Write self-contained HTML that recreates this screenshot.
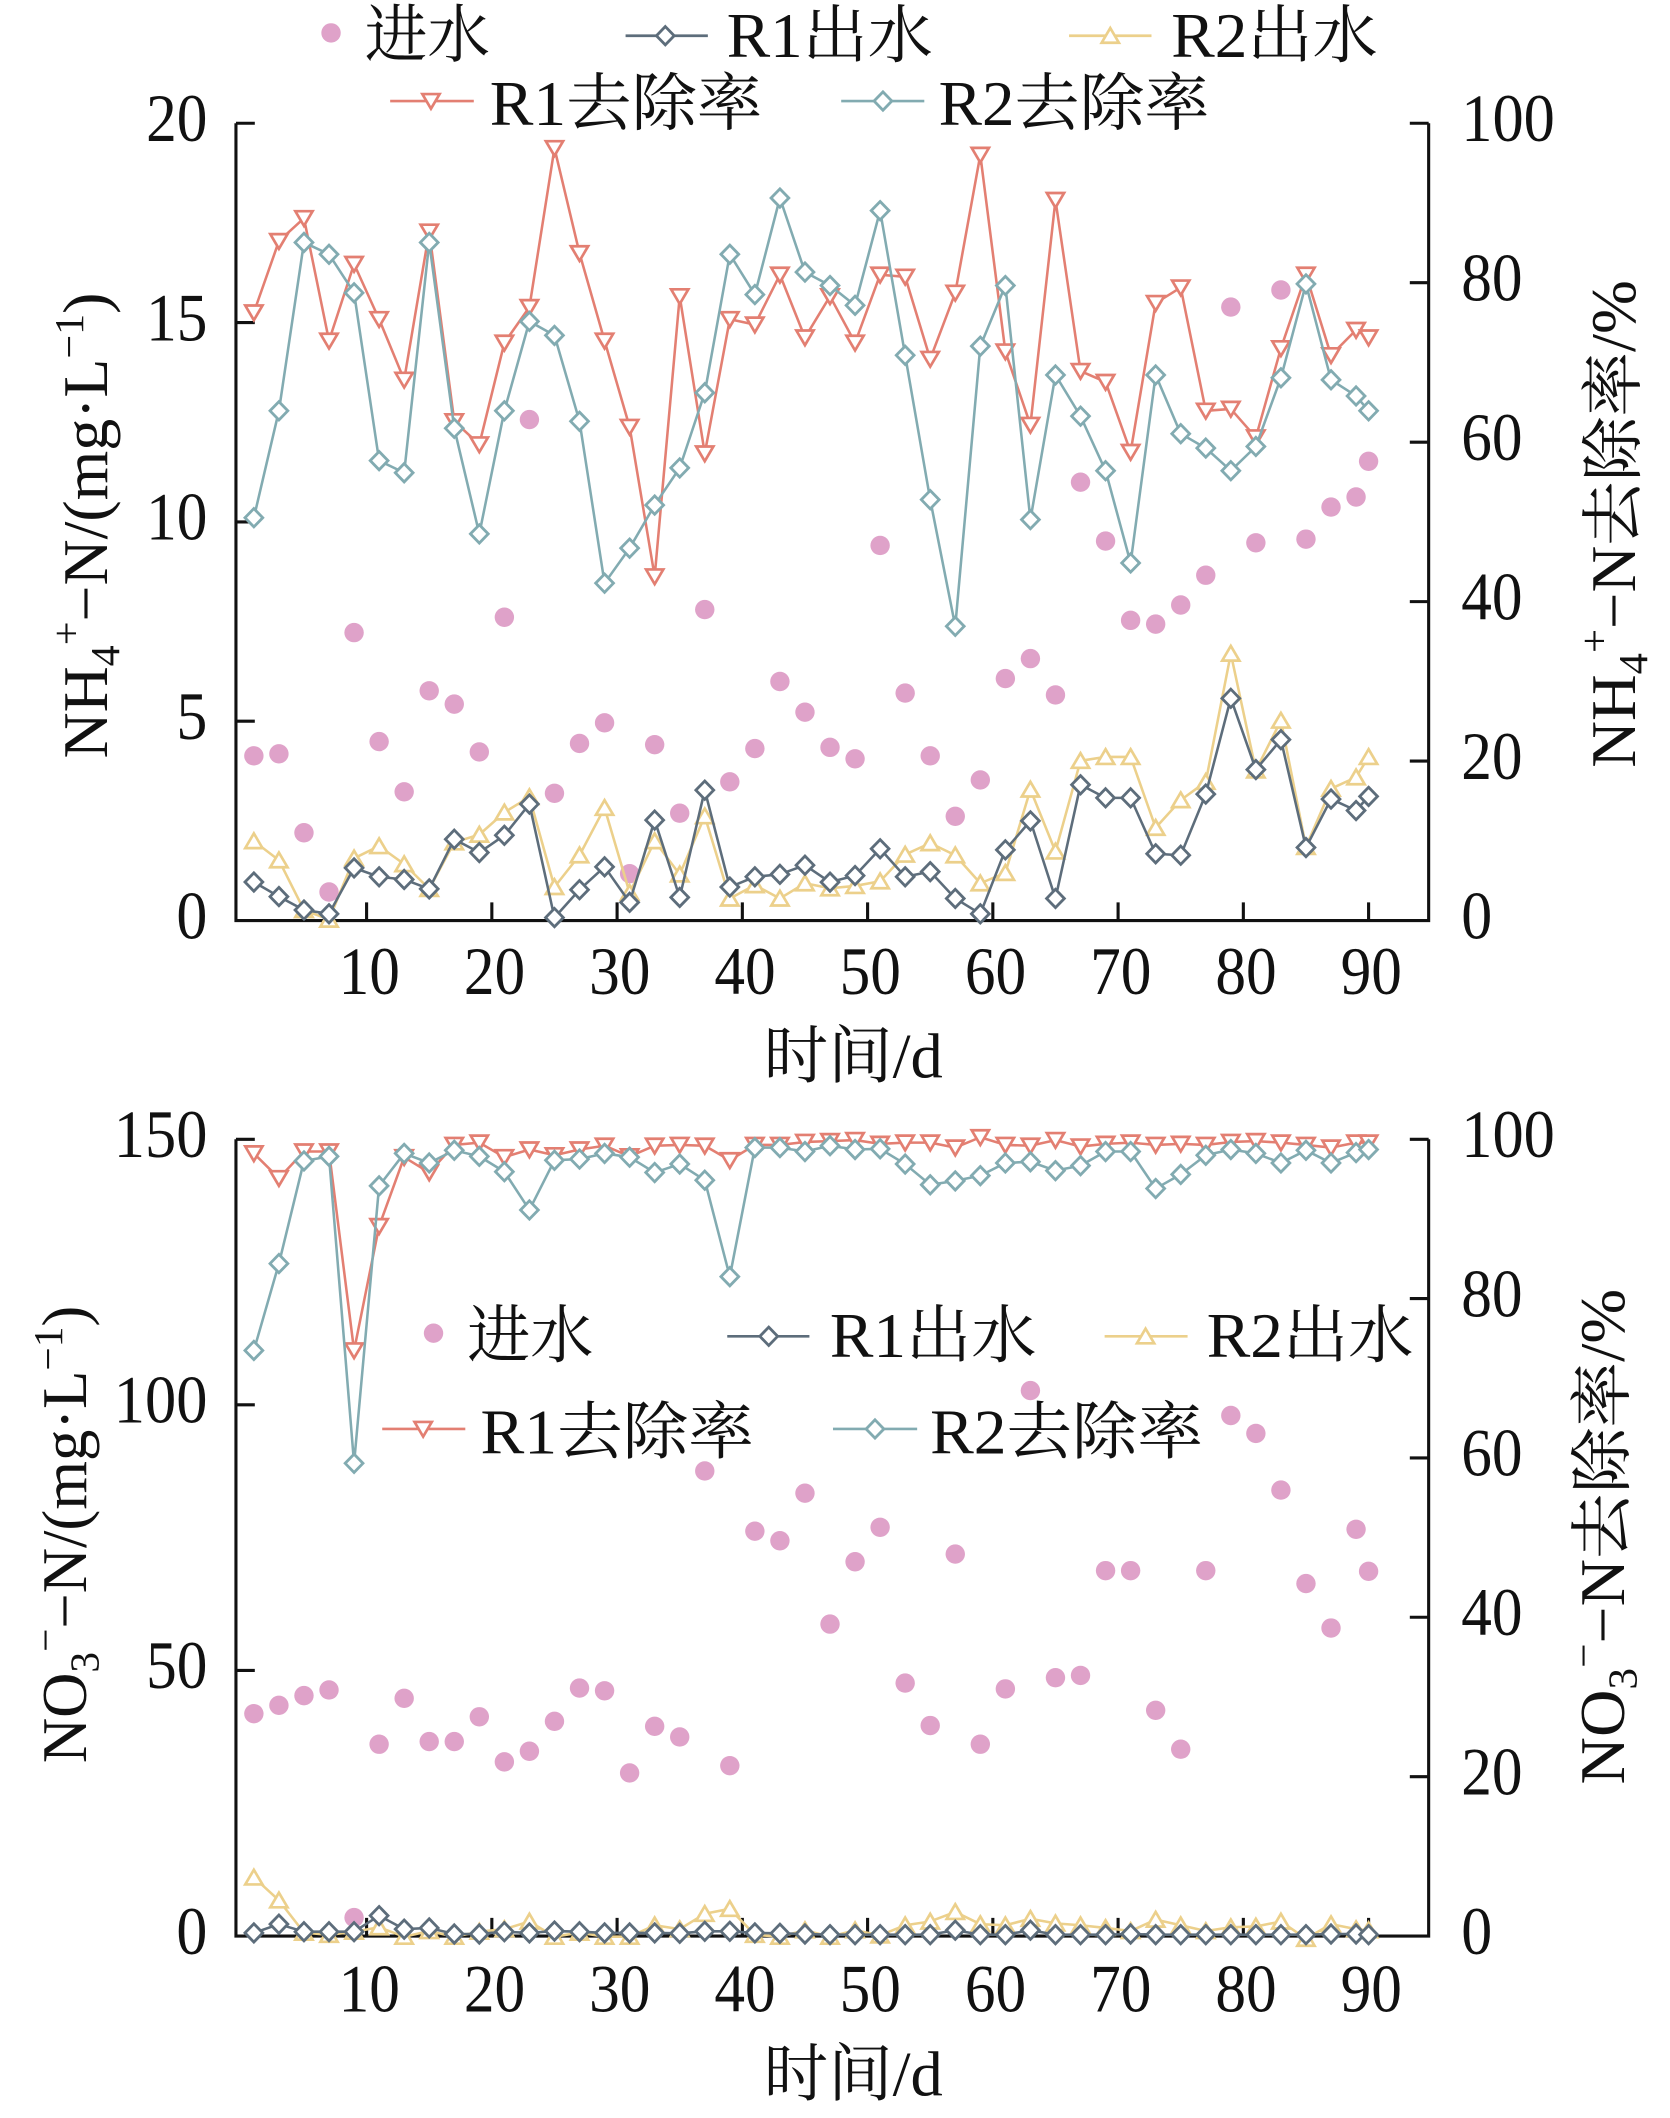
<!DOCTYPE html>
<html>
<head>
<meta charset="utf-8">
<style>
html,body{margin:0;padding:0;background:#fff;}
svg{display:block;}
</style>
</head>
<body>
<svg width="1670" height="2118" viewBox="0 0 1240 1572.6" xmlns="http://www.w3.org/2000/svg">
<defs>
<marker id="mP" markerUnits="userSpaceOnUse" markerWidth="20" markerHeight="20" refX="10" refY="10" overflow="visible"><circle cx="10" cy="10" r="7.2" fill="#dfa2c9"/></marker>
<marker id="mD" markerUnits="userSpaceOnUse" markerWidth="20" markerHeight="20" refX="10" refY="10" overflow="visible"><path d="M10,3.2 L16.6,10 L10,16.8 L3.4,10Z" fill="#fff" stroke="#5d6d7b" stroke-width="2.1"/></marker>
<marker id="mY" markerUnits="userSpaceOnUse" markerWidth="20" markerHeight="20" refX="10" refY="10" overflow="visible"><path d="M10,4.3 L16.4,15.2 L3.6,15.2Z" fill="#fff" stroke="#ecd08b" stroke-width="2"/></marker>
<marker id="mS" markerUnits="userSpaceOnUse" markerWidth="20" markerHeight="20" refX="10" refY="10" overflow="visible"><path d="M3.6,4.8 L16.4,4.8 L10,15.7Z" fill="#fff" stroke="#e37f72" stroke-width="2"/></marker>
<marker id="mT" markerUnits="userSpaceOnUse" markerWidth="20" markerHeight="20" refX="10" refY="10" overflow="visible"><path d="M10,3.2 L16.6,10 L10,16.8 L3.4,10Z" fill="#fff" stroke="#82abb1" stroke-width="2.1"/></marker>
</defs>
<rect x="0" y="0" width="1240" height="1572.6" fill="#fff"/>

<!-- ============ TOP CHART AXES ============ -->
<g stroke="#111" stroke-width="2.3" fill="none">
<polyline points="175.2,91.5 175.2,683.5 1060.8,683.5 1060.8,91.5"/>
<path d="M175.2,91.5h14 M175.2,239.5h14 M175.2,387.5h14 M175.2,535.5h14"/>
<path d="M1060.8,91.5h-14 M1060.8,209.9h-14 M1060.8,328.3h-14 M1060.8,446.7h-14 M1060.8,565.1h-14"/>
<path d="M272.2,683.5v-13.5 M365.2,683.5v-13.5 M458.2,683.5v-13.5 M551.2,683.5v-13.5 M644.2,683.5v-13.5 M737.2,683.5v-13.5 M830.2,683.5v-13.5 M923.2,683.5v-13.5 M1016.2,683.5v-13.5"/>
</g>

<!-- ============ BOTTOM CHART AXES ============ -->
<g stroke="#111" stroke-width="2.3" fill="none">
<polyline points="175.2,845.9 175.2,1437.5 1060.8,1437.5 1060.8,845.9"/>
<path d="M175.2,845.9h14 M175.2,1043.1h14 M175.2,1240.3h14"/>
<path d="M1060.8,845.9h-14 M1060.8,964.2h-14 M1060.8,1082.5h-14 M1060.8,1200.8h-14 M1060.8,1319.2h-14"/>
<path d="M272.2,1437.5v-13.5 M365.2,1437.5v-13.5 M458.2,1437.5v-13.5 M551.2,1437.5v-13.5 M644.2,1437.5v-13.5 M737.2,1437.5v-13.5 M830.2,1437.5v-13.5 M923.2,1437.5v-13.5 M1016.2,1437.5v-13.5"/>
</g>

<!-- ============ TOP CHART SERIES ============ -->
<polyline fill="none" stroke="none" marker-start="url(#mP)" marker-mid="url(#mP)" marker-end="url(#mP)" points="188.5,561.2 207.1,559.7 225.7,618.3 244.3,662.3 262.9,469.7 281.5,550.6 300.1,587.9 318.7,512.9 337.3,522.8 355.9,558.3 374.5,458.3 393.1,311.5 411.7,589 430.3,552 448.9,536.7 467.5,648.7 486.1,552.9 504.7,603.8 523.3,452.6 541.9,580.5 560.5,555.8 579.1,506 597.7,528.8 616.3,554.9 634.9,563.4 653.5,405 672.1,514.6 690.7,561.2 709.3,606.1 727.9,579.1 746.5,503.8 765.1,489 783.7,516 802.3,358 820.9,401.7 839.5,460.6 858.1,463.4 876.7,449.2 895.3,427.1 913.9,228 932.5,403 951.1,215.3 969.7,400.3 988.3,376.5 1006.9,369 1016.2,342.5"/>

<polyline fill="none" stroke="#ecd08b" stroke-width="1.9" stroke-linejoin="round" marker-start="url(#mY)" marker-mid="url(#mY)" marker-end="url(#mY)" points="188.5,624.5 207.1,638.7 225.7,675.7 244.3,682.8 262.9,637.3 281.5,628.2 300.1,641.6 318.7,660 337.3,625.4 355.9,619.7 374.5,603.2 393.1,591.8 411.7,658.6 430.3,635 448.9,599.8 467.5,662.9 486.1,624.5 504.7,649.2 523.3,606 541.9,667.1 560.5,657.2 579.1,667.1 597.7,655.8 616.3,659.5 634.9,657.8 653.5,654.3 672.1,634.5 690.7,626 709.3,635 727.9,655.8 746.5,648.1 765.1,586.2 783.7,632.2 802.3,564.9 820.9,562 839.5,562 858.1,614.6 876.7,594.1 895.3,580.5 913.9,485.3 932.5,572 951.1,535 969.7,628.8 988.3,585.6 1006.9,577.1 1016.2,562"/>

<polyline fill="none" stroke="#5d6d7b" stroke-width="1.9" stroke-linejoin="round" marker-start="url(#mD)" marker-mid="url(#mD)" marker-end="url(#mD)" points="188.5,654.9 207.1,665.7 225.7,675.7 244.3,678.5 262.9,644.4 281.5,651 300.1,653 318.7,660 337.3,623.1 355.9,633 374.5,620.2 393.1,597 411.7,681.3 430.3,660.6 448.9,643.6 467.5,670 486.1,608.9 504.7,666.3 523.3,586.7 541.9,658.6 560.5,651 579.1,649.2 597.7,642.4 616.3,655 634.9,650.1 653.5,630.2 672.1,651 690.7,647.2 709.3,667.1 727.9,678.5 746.5,631 765.1,609.5 783.7,667.1 802.3,582.7 820.9,592.4 839.5,592.4 858.1,633.9 876.7,635 895.3,589.6 913.9,518.5 932.5,571.4 951.1,549.2 969.7,629.3 988.3,593.3 1006.9,601.8 1016.2,591.3"/>

<polyline fill="none" stroke="#e37f72" stroke-width="1.9" stroke-linejoin="round" marker-start="url(#mS)" marker-mid="url(#mS)" marker-end="url(#mS)" points="188.5,232 207.1,179 225.7,162 244.3,253 262.9,196 281.5,237 300.1,282 318.7,172 337.3,312.8 355.9,330 374.5,254.5 393.1,228 411.7,110 430.3,188 448.9,253 467.5,317 486.1,428 504.7,220 523.3,336.7 541.9,237 560.5,241 579.1,204 597.7,250.6 616.3,220 634.9,254.5 653.5,204 672.1,205.5 690.7,266.5 709.3,217.4 727.9,115 746.5,261 765.1,315.5 783.7,148.5 802.3,275.5 820.9,283.6 839.5,335.6 858.1,225 876.7,213.5 895.3,305 913.9,303.6 932.5,324.8 951.1,258.6 969.7,204 988.3,263.8 1006.9,245 1016.2,250.6"/>

<polyline fill="none" stroke="#82abb1" stroke-width="1.9" stroke-linejoin="round" marker-start="url(#mT)" marker-mid="url(#mT)" marker-end="url(#mT)" points="188.5,384.4 207.1,305 225.7,180 244.3,188.8 262.9,217.4 281.5,342 300.1,351 318.7,180 337.3,318 355.9,396.4 374.5,305 393.1,238.6 411.7,249 430.3,312.8 448.9,433 467.5,407 486.1,375 504.7,347.4 523.3,291.6 541.9,188.8 560.5,218.7 579.1,147 597.7,202 616.3,212 634.9,226.7 653.5,156.4 672.1,263.8 690.7,371 709.3,465 727.9,257 746.5,212 765.1,385.8 783.7,278.4 802.3,309 820.9,349.5 839.5,418 858.1,278.4 876.7,322 895.3,332.7 913.9,349.5 932.5,331.5 951.1,280.5 969.7,210.8 988.3,282 1006.9,294 1016.2,305"/>

<!-- ============ BOTTOM CHART SERIES ============ -->
<polyline fill="none" stroke="none" marker-start="url(#mP)" marker-mid="url(#mP)" marker-end="url(#mP)" points="188.5,1272.4 207.1,1266.2 225.7,1259 244.3,1254.8 262.9,1423.8 281.5,1295.1 300.1,1261 318.7,1293.1 337.3,1293.1 355.9,1274.7 374.5,1308.2 393.1,1300.3 411.7,1278.1 430.3,1253.4 448.9,1255.4 467.5,1316.4 486.1,1281.8 504.7,1289.7 523.3,1092.2 541.9,1311 560.5,1136.9 579.1,1144 597.7,1108.7 616.3,1205.9 634.9,1159.6 653.5,1134 672.1,1249.7 690.7,1281.2 709.3,1153.9 727.9,1295.1 746.5,1254 765.1,1032.5 783.7,1245.7 802.3,1244 820.9,1166.2 839.5,1166.2 858.1,1269.9 876.7,1298.8 895.3,1166.2 913.9,1051 932.5,1064.3 951.1,1106.4 969.7,1175.8 988.3,1208.8 1006.9,1135.5 1016.2,1166.7"/>

<polyline fill="none" stroke="#ecd08b" stroke-width="1.9" stroke-linejoin="round" marker-start="url(#mY)" marker-mid="url(#mY)" marker-end="url(#mY)" points="188.5,1394 207.1,1411 225.7,1435 244.3,1436.6 262.9,1434.3 281.5,1431 300.1,1438 318.7,1433.8 337.3,1438 355.9,1434.3 374.5,1432.4 393.1,1426.7 411.7,1438 430.3,1435 448.9,1438 467.5,1438 486.1,1429.5 504.7,1432.4 523.3,1421 541.9,1417.3 560.5,1436.6 579.1,1438 597.7,1433.2 616.3,1438 634.9,1433.2 653.5,1437 672.1,1429.5 690.7,1426.7 709.3,1419.6 727.9,1428.7 746.5,1429.5 765.1,1424.7 783.7,1428.1 802.3,1429.5 820.9,1431.5 839.5,1433.8 858.1,1425.3 876.7,1429.5 895.3,1433.8 913.9,1431 932.5,1430.4 951.1,1426.7 969.7,1439.5 988.3,1428.7 1006.9,1432.4 1016.2,1433.2"/>

<polyline fill="none" stroke="#5d6d7b" stroke-width="1.9" stroke-linejoin="round" marker-start="url(#mD)" marker-mid="url(#mD)" marker-end="url(#mD)" points="188.5,1435.2 207.1,1428.7 225.7,1434.3 244.3,1434.3 262.9,1434.3 281.5,1422.4 300.1,1432.4 318.7,1431.5 337.3,1436 355.9,1436 374.5,1434.3 393.1,1435.2 411.7,1433.8 430.3,1434.3 448.9,1435.2 467.5,1435.2 486.1,1435.2 504.7,1435.5 523.3,1434 541.9,1434 560.5,1435.2 579.1,1435.5 597.7,1436 616.3,1436.5 634.9,1436.5 653.5,1436.5 672.1,1436.5 690.7,1436.5 709.3,1433.2 727.9,1436.5 746.5,1436.5 765.1,1433.2 783.7,1436.5 802.3,1436.5 820.9,1436.5 839.5,1436 858.1,1436.5 876.7,1436.5 895.3,1436.5 913.9,1436.5 932.5,1436.5 951.1,1436.5 969.7,1436.5 988.3,1436 1006.9,1436 1016.2,1436.5"/>

<polyline fill="none" stroke="#e37f72" stroke-width="1.9" stroke-linejoin="round" marker-start="url(#mS)" marker-mid="url(#mS)" marker-end="url(#mS)" points="188.5,856.4 207.1,874.8 225.7,855 244.3,855 262.9,1002.7 281.5,910.4 300.1,859.2 318.7,870.6 337.3,850.1 355.9,848.4 374.5,859.2 393.1,853.5 411.7,857.8 430.3,853.5 448.9,850.7 467.5,858.6 486.1,850.7 504.7,850.1 523.3,850.7 541.9,861.5 560.5,850.1 579.1,850.1 597.7,847.9 616.3,847.3 634.9,846.5 653.5,849.3 672.1,848.4 690.7,848.4 709.3,852.1 727.9,844.4 746.5,850.1 765.1,850.7 783.7,846.5 802.3,851.3 820.9,849.3 839.5,848.4 858.1,850.1 876.7,849.3 895.3,850.1 913.9,847.9 932.5,847.3 951.1,848.4 969.7,850.1 988.3,852.1 1006.9,848.4 1016.2,848.4"/>

<polyline fill="none" stroke="#82abb1" stroke-width="1.9" stroke-linejoin="round" marker-start="url(#mT)" marker-mid="url(#mT)" marker-end="url(#mT)" points="188.5,1002.7 207.1,938.2 225.7,862 244.3,858.6 262.9,1086.5 281.5,880.5 300.1,856.4 318.7,863.5 337.3,854.1 355.9,858.6 374.5,870 393.1,898.4 411.7,861.5 430.3,860.6 448.9,856.4 467.5,859.2 486.1,870.6 504.7,864.3 523.3,876.3 541.9,947.9 560.5,852.1 579.1,852.1 597.7,855 616.3,850.7 634.9,853.5 653.5,853 672.1,864.3 690.7,879.7 709.3,876.8 727.9,872.9 746.5,863.5 765.1,862.6 783.7,869.2 802.3,865.5 820.9,855 839.5,855 858.1,882.5 876.7,872 895.3,857.8 913.9,853.5 932.5,856.4 951.1,863.5 969.7,854.1 988.3,863.5 1006.9,855.8 1016.2,853.5"/>

<!-- ============ LEGEND GRAPHICS ============ -->
<circle cx="245.8" cy="24.4" r="7.2" fill="#dfa2c9"/>
<polyline fill="none" stroke="#5d6d7b" stroke-width="2" points="464.5,26.5 494,26.5 525.6,26.5" marker-mid="url(#mD)"/>
<polyline fill="none" stroke="#ecd08b" stroke-width="2" points="793.8,26.5 824.4,26.5 855,26.5" marker-mid="url(#mY)"/>
<polyline fill="none" stroke="#e37f72" stroke-width="2" points="289.7,75 320,75 351.8,75" marker-mid="url(#mS)"/>
<polyline fill="none" stroke="#82abb1" stroke-width="2" points="624.6,75 655.6,75 686.3,75" marker-mid="url(#mT)"/>

<circle cx="321.9" cy="989.9" r="7.2" fill="#dfa2c9"/>
<polyline fill="none" stroke="#5d6d7b" stroke-width="2" points="540,992.2 570.8,992.2 601,992.2" marker-mid="url(#mD)"/>
<polyline fill="none" stroke="#ecd08b" stroke-width="2" points="820.2,992.2 850.6,992.2 881.8,992.2" marker-mid="url(#mY)"/>
<polyline fill="none" stroke="#e37f72" stroke-width="2" points="283.8,1061 314.2,1061 345.5,1061" marker-mid="url(#mS)"/>
<polyline fill="none" stroke="#82abb1" stroke-width="2" points="618.5,1061 649.7,1061 681,1061" marker-mid="url(#mT)"/>

<!-- ============ TEXT ============ -->
<g font-family="'Liberation Serif','Noto Serif CJK SC',serif" font-size="47" fill="#111">
<!-- top legend -->
<text x="270.8" y="42" textLength="93" lengthAdjust="spacingAndGlyphs">进水</text>
<text x="539.6" y="42.4" textLength="153" lengthAdjust="spacingAndGlyphs">R1出水</text>
<text x="869.7" y="42.4" textLength="153.3" lengthAdjust="spacingAndGlyphs">R2出水</text>
<text x="363.7" y="92.8" textLength="202.3" lengthAdjust="spacingAndGlyphs">R1去除率</text>
<text x="697" y="92.8" textLength="201" lengthAdjust="spacingAndGlyphs">R2去除率</text>

<!-- bottom legend -->
<text x="346.9" y="1007.6" textLength="93.7" lengthAdjust="spacingAndGlyphs">进水</text>
<text x="616.2" y="1007.6" textLength="153.4" lengthAdjust="spacingAndGlyphs">R1出水</text>
<text x="896" y="1007.6" textLength="153.5" lengthAdjust="spacingAndGlyphs">R2出水</text>
<text x="356.8" y="1079.4" textLength="203" lengthAdjust="spacingAndGlyphs">R1去除率</text>
<text x="690.6" y="1079.4" textLength="202.6" lengthAdjust="spacingAndGlyphs">R2去除率</text>

<g font-size="50">
<!-- top left ticks -->
<g text-anchor="end">
<text x="154" y="104.7" textLength="45.5" lengthAdjust="spacingAndGlyphs">20</text>
<text x="154" y="252.7" textLength="45.5" lengthAdjust="spacingAndGlyphs">15</text>
<text x="154" y="400.7" textLength="45.5" lengthAdjust="spacingAndGlyphs">10</text>
<text x="154" y="548.7" textLength="23" lengthAdjust="spacingAndGlyphs">5</text>
<text x="154" y="696.7" textLength="23" lengthAdjust="spacingAndGlyphs">0</text>
</g>
<!-- top right ticks -->
<g text-anchor="start">
<text x="1085" y="104.7" textLength="69.5" lengthAdjust="spacingAndGlyphs">100</text>
<text x="1085" y="223.1" textLength="45.5" lengthAdjust="spacingAndGlyphs">80</text>
<text x="1085" y="341.5" textLength="45.5" lengthAdjust="spacingAndGlyphs">60</text>
<text x="1085" y="459.9" textLength="45.5" lengthAdjust="spacingAndGlyphs">40</text>
<text x="1085" y="578.3" textLength="45.5" lengthAdjust="spacingAndGlyphs">20</text>
<text x="1085" y="696.7" textLength="23" lengthAdjust="spacingAndGlyphs">0</text>
</g>
<!-- top x ticks -->
<g text-anchor="middle">
<text x="274.2" y="738" textLength="45.5" lengthAdjust="spacingAndGlyphs">10</text>
<text x="367.2" y="738" textLength="45.5" lengthAdjust="spacingAndGlyphs">20</text>
<text x="460.2" y="738" textLength="45.5" lengthAdjust="spacingAndGlyphs">30</text>
<text x="553.2" y="738" textLength="45.5" lengthAdjust="spacingAndGlyphs">40</text>
<text x="646.2" y="738" textLength="45.5" lengthAdjust="spacingAndGlyphs">50</text>
<text x="739.2" y="738" textLength="45.5" lengthAdjust="spacingAndGlyphs">60</text>
<text x="832.2" y="738" textLength="45.5" lengthAdjust="spacingAndGlyphs">70</text>
<text x="925.2" y="738" textLength="45.5" lengthAdjust="spacingAndGlyphs">80</text>
<text x="1018.2" y="738" textLength="45.5" lengthAdjust="spacingAndGlyphs">90</text>
</g>

<!-- bottom left ticks -->
<g text-anchor="end">
<text x="154" y="859.1" textLength="69.5" lengthAdjust="spacingAndGlyphs">150</text>
<text x="154" y="1056.3" textLength="69.5" lengthAdjust="spacingAndGlyphs">100</text>
<text x="154" y="1253.5" textLength="45.5" lengthAdjust="spacingAndGlyphs">50</text>
<text x="154" y="1450.7" textLength="23" lengthAdjust="spacingAndGlyphs">0</text>
</g>
<!-- bottom right ticks -->
<g text-anchor="start">
<text x="1085" y="859.1" textLength="69.5" lengthAdjust="spacingAndGlyphs">100</text>
<text x="1085" y="977.4" textLength="45.5" lengthAdjust="spacingAndGlyphs">80</text>
<text x="1085" y="1095.7" textLength="45.5" lengthAdjust="spacingAndGlyphs">60</text>
<text x="1085" y="1214" textLength="45.5" lengthAdjust="spacingAndGlyphs">40</text>
<text x="1085" y="1332.4" textLength="45.5" lengthAdjust="spacingAndGlyphs">20</text>
<text x="1085" y="1450.7" textLength="23" lengthAdjust="spacingAndGlyphs">0</text>
</g>
<!-- bottom x ticks -->
<g text-anchor="middle">
<text x="274.2" y="1493.5" textLength="45.5" lengthAdjust="spacingAndGlyphs">10</text>
<text x="367.2" y="1493.5" textLength="45.5" lengthAdjust="spacingAndGlyphs">20</text>
<text x="460.2" y="1493.5" textLength="45.5" lengthAdjust="spacingAndGlyphs">30</text>
<text x="553.2" y="1493.5" textLength="45.5" lengthAdjust="spacingAndGlyphs">40</text>
<text x="646.2" y="1493.5" textLength="45.5" lengthAdjust="spacingAndGlyphs">50</text>
<text x="739.2" y="1493.5" textLength="45.5" lengthAdjust="spacingAndGlyphs">60</text>
<text x="832.2" y="1493.5" textLength="45.5" lengthAdjust="spacingAndGlyphs">70</text>
<text x="925.2" y="1493.5" textLength="45.5" lengthAdjust="spacingAndGlyphs">80</text>
<text x="1018.2" y="1493.5" textLength="45.5" lengthAdjust="spacingAndGlyphs">90</text>
</g>
</g>

<text x="633.5" y="800" text-anchor="middle" textLength="133" lengthAdjust="spacingAndGlyphs">时间/d</text>
<text x="633.5" y="1556" text-anchor="middle" textLength="133" lengthAdjust="spacingAndGlyphs">时间/d</text>

<!-- y axis titles -->
<text transform="translate(79.5,390.2) rotate(-90)" text-anchor="middle" textLength="346" lengthAdjust="spacingAndGlyphs">NH<tspan font-size="31" dy="9">4</tspan><tspan font-size="31" dy="-29">+</tspan><tspan dy="20">−N/(mg·L</tspan><tspan font-size="31" dy="-18">−1</tspan><tspan dy="18">)</tspan></text>

<text transform="translate(1214,389) rotate(-90)" text-anchor="middle" textLength="362" lengthAdjust="spacingAndGlyphs">NH<tspan font-size="31" dy="9">4</tspan><tspan font-size="31" dy="-29">+</tspan><tspan dy="20">−N去除率/%</tspan></text>

<text transform="translate(64,1139.3) rotate(-90)" text-anchor="middle" textLength="339.6" lengthAdjust="spacingAndGlyphs">NO<tspan font-size="31" dy="9">3</tspan><tspan font-size="31" dy="-29">−</tspan><tspan dy="20">−N/(mg·L</tspan><tspan font-size="31" dy="-18">−1</tspan><tspan dy="18">)</tspan></text>

<text transform="translate(1206,1141) rotate(-90)" text-anchor="middle" textLength="368" lengthAdjust="spacingAndGlyphs">NO<tspan font-size="31" dy="9">3</tspan><tspan font-size="31" dy="-29">−</tspan><tspan dy="20">−N去除率/%</tspan></text>
</g>
</svg>
</body>
</html>
